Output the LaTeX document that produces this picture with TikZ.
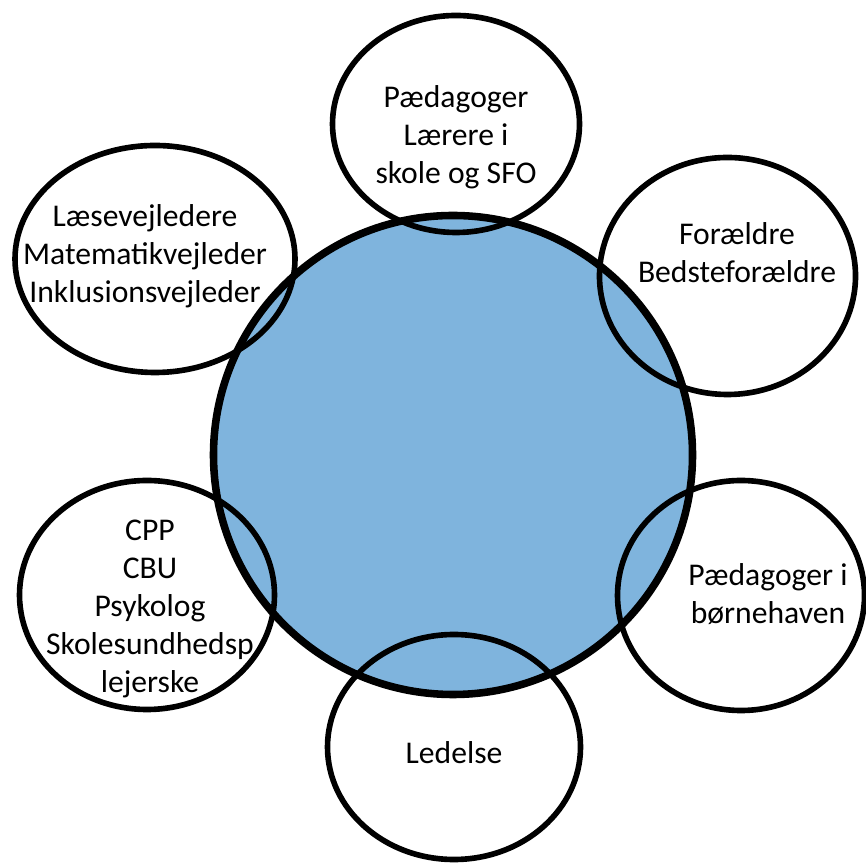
\documentclass[tikz,border=0pt]{standalone}
\usepackage{fontspec}
\setmainfont{Carlito}
\usetikzlibrary{positioning,shapes.geometric}

\definecolor{midtblaa}{RGB}{127,180,221}

\begin{document}
\begin{tikzpicture}[
    ring/.style={ellipse, draw, line width=3.2pt, inner sep=0pt},
    tekst/.style={align=center, font=\fontsize{18}{21.6}\selectfont, inner sep=0pt}]
    \useasboundingbox (0,0) rectangle (17.30,17.36);

    % det store blaa midterfelt
    \node (midte) [circle, draw, line width=4.3pt, fill=midtblaa, minimum size=9.58cm] at (9.06,8.26) {};

    % de seks ringe rundt om
    \node (laerer) [ring, minimum width=4.94cm, minimum height=4.34cm] at (9.12,14.88) {};
    \node (vejleder) [ring, minimum width=5.60cm, minimum height=4.54cm] at (3.10,12.18) {};
    \node (foraeldre) [ring, minimum width=5.12cm, minimum height=4.74cm] at (14.55,11.84) {};
    \node (ppr) [ring, minimum width=5.10cm, minimum height=4.58cm] at (2.94,5.46) {};
    \node (boernehave) [ring, minimum width=4.94cm, minimum height=4.60cm] at (14.82,5.45) {};
    \node (ledelse) [ring, minimum width=5.06cm, minimum height=4.50cm] at (9.08,2.42) {};

    \node (laererT) [tekst] at (9.12,14.62) {Pædagoger\\Lærere i\\skole og SFO};
    \node (vejlederT) [tekst] at (2.90,12.24) {Læsevejledere\\Matematikvejleder\\Inklusionsvejleder};
    \node (foraeldreT) [tekst] at (14.74,12.30) {Forældre\\Bedsteforældre};
    \node (pprT) [tekst] at (3.00,5.18) {CPP\\CBU\\Psykolog\\Skolesundhedsp\\lejerske};
    \node (boernehaveT) [tekst] at (15.36,5.48) {Pædagoger i\\børnehaven};
    \node (ledelseT) [tekst] at (9.08,2.30) {Ledelse};
\end{tikzpicture}
\end{document}
